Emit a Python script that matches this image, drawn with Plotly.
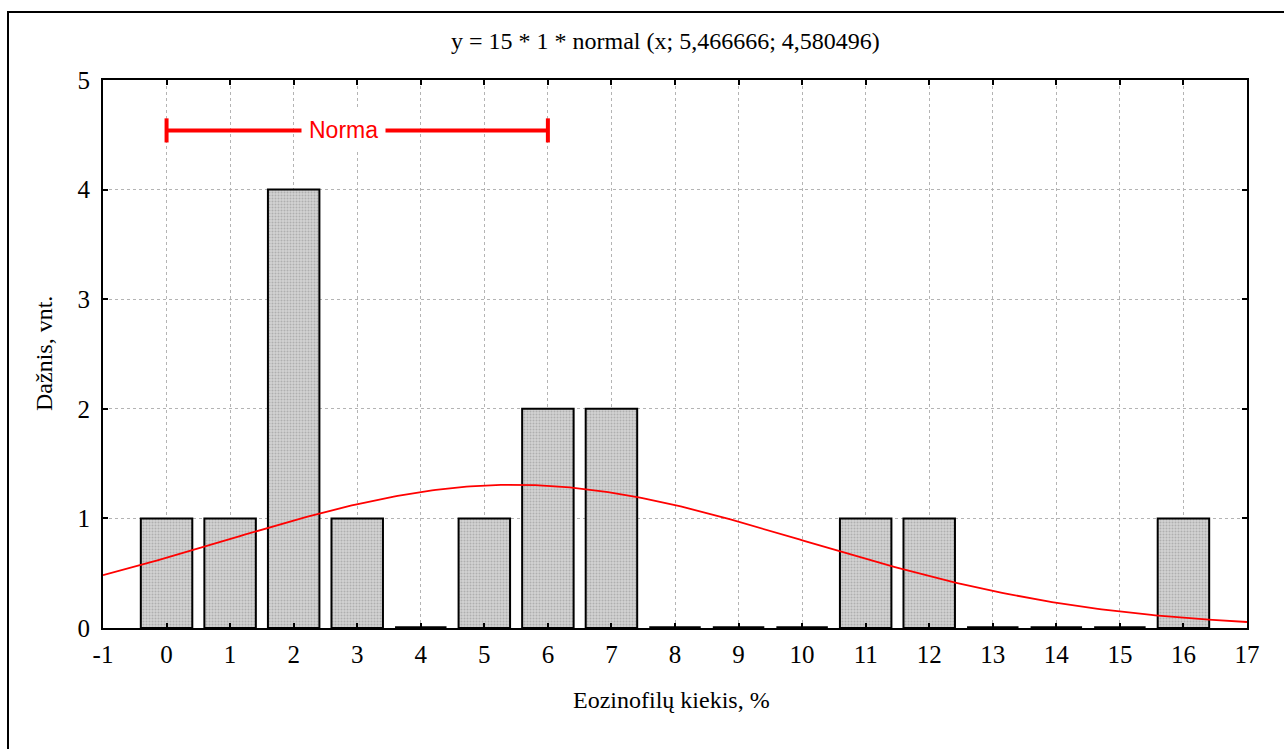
import numpy as np
import plotly.graph_objects as go

# ---- data ----
categories = list(range(0, 17))
counts = [1, 1, 4, 1, 0, 1, 2, 2, 0, 0, 0, 1, 1, 0, 0, 0, 1]
n_total = 15
bin_width = 1
mean_val = 5.466666
sd_val = 4.580496
norma_range = [0, 6]
norma_level = 4.54
x_ticks = list(range(-1, 18))
y_ticks = [0, 1, 2, 3, 4, 5]
title_text = "y = 15 * 1 * normal (x; 5,466666; 4,580496)"

serif = "Liberation Serif, Times New Roman, serif"
bar_w = 0.81

fig = go.Figure()

# bars (non-zero)
nz_x = [c for c, v in zip(categories, counts) if v > 0]
nz_y = [v for v in counts if v > 0]
fig.add_trace(go.Bar(
    x=nz_x, y=nz_y, width=bar_w,
    marker=dict(color="#c6c6c6",
                line=dict(color="black", width=2),
                pattern=dict(shape=".", fgcolor="#8c8c8c", bgcolor="#d2d2d2", size=3, solidity=0.35)),
    showlegend=False, hoverinfo="skip"))

# zero-height bars drawn as thin black lines
zx, zy = [], []
for c, v in zip(categories, counts):
    if v == 0:
        zx += [c - bar_w / 2, c + bar_w / 2, None]
        zy += [v, v, None]
fig.add_trace(go.Scatter(x=zx, y=zy, mode="lines", line=dict(color="black", width=3.5),
                         showlegend=False, hoverinfo="skip", cliponaxis=False))

# fitted normal curve
xs = np.linspace(x_ticks[0], x_ticks[-1], 300)
ys = n_total * bin_width * np.exp(-0.5 * ((xs - mean_val) / sd_val) ** 2) / (sd_val * np.sqrt(2 * np.pi))
fig.add_trace(go.Scatter(x=xs, y=ys, mode="lines", line=dict(color="red", width=1.8),
                         showlegend=False, hoverinfo="skip"))

# Norma bracket
cap = 0.11
fig.add_trace(go.Scatter(
    x=[norma_range[0], norma_range[1], None, norma_range[0], norma_range[0], None, norma_range[1], norma_range[1]],
    y=[norma_level, norma_level, None, norma_level - cap, norma_level + cap, None, norma_level - cap, norma_level + cap],
    mode="lines", line=dict(color="red", width=4), showlegend=False, hoverinfo="skip"))

annotations = [
    dict(x=2.79, y=norma_level, xref="x", yref="y", text="Norma", showarrow=False,
         xanchor="center", yanchor="middle",
         font=dict(family="Liberation Sans, Arial, sans-serif", size=23, color="red"),
         bgcolor="white", borderpad=7),
    dict(x=0.492, y=(628 - 41) / 548, xref="paper", yref="paper", text=title_text, showarrow=False,
         xanchor="center", yanchor="middle",
         font=dict(family=serif, size=24, color="black")),
    dict(x=(671 - 103) / 1144, y=(628 - 700) / 548, xref="paper", yref="paper", text="Eozinofilų kiekis, %",
         showarrow=False, xanchor="center", yanchor="middle",
         font=dict(family=serif, size=24, color="black")),
    dict(x=(44 - 103) / 1144, y=0.5, xref="paper", yref="paper", text="Dažnis, vnt.", showarrow=False, textangle=-90,
         xanchor="center", yanchor="middle",
         font=dict(family=serif, size=24, color="black")),
]

fig.update_layout(
    width=1284, height=749,
    margin=dict(l=103, r=37, t=80, b=121),
    paper_bgcolor="white", plot_bgcolor="white",
    annotations=annotations,
    shapes=[dict(type="rect", xref="paper", yref="paper",
                 x0=(8 - 103) / 1144, x1=(1300 - 103) / 1144,
                 y0=(628 - 770) / 548, y1=(628 - 12) / 548,
                 line=dict(color="black", width=2), fillcolor="rgba(0,0,0,0)", layer="below")],
)

fig.update_xaxes(range=[x_ticks[0], x_ticks[-1]], tickvals=x_ticks, ticktext=[str(t) for t in x_ticks],
                 showgrid=True, gridcolor="#b4b4b4", griddash="dot", gridwidth=1,
                 showline=True, linecolor="black", linewidth=2, mirror="allticks",
                 ticks="inside", ticklen=5, tickwidth=1.5, tickcolor="black", ticklabelstandoff=3,
                 tickfont=dict(family=serif, size=25, color="black"), zeroline=False)
fig.update_yaxes(range=[y_ticks[0], y_ticks[-1]], tickvals=y_ticks, ticktext=[str(t) for t in y_ticks],
                 showgrid=True, gridcolor="#b4b4b4", griddash="dot", gridwidth=1,
                 showline=True, linecolor="black", linewidth=2, mirror="allticks",
                 ticks="inside", ticklen=5, tickwidth=1.5, tickcolor="black", ticklabelstandoff=6,
                 tickfont=dict(family=serif, size=25, color="black"), zeroline=False)

fig.write_html("out.html", config={"displayModeBar": False},
               post_script="document.body.style.margin='0';document.body.style.padding='0';")
